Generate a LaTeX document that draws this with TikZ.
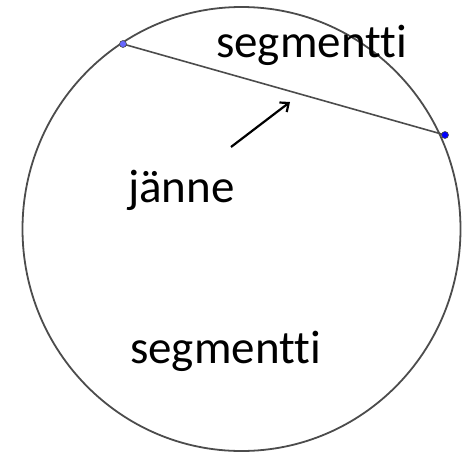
\documentclass[tikz,border=0pt]{standalone}
\usepackage{fontspec}
\setmainfont{Carlito}[RawFeature=-liga]
\usetikzlibrary{arrows.meta}
\begin{document}
\begin{tikzpicture}[x=1pt,y=-1pt,
  lbl/.style={anchor=base west,inner sep=0pt,font=\fontsize{47}{50}\selectfont},
  curve/.style={draw=black!70,line width=1.8pt},
  pt/.style={circle,inner sep=0pt,minimum size=7pt,draw=black!70,line width=0.6pt}]
\useasboundingbox (0,0) rectangle (462,453);
\draw[curve] (241.5,229) ellipse [x radius=219, y radius=222];
\draw[curve,line width=1.6pt] (123,44) -- (445,135);
\node[pt,fill=blue!60!white] (A) at (123,44) {};
\node[pt,fill=blue] (B) at (445,135) {};
\node[lbl] (s1) at (216,57) {segmentti};
\node[lbl] (j) at (128,202) {jänne};
\node[lbl] (s2) at (130,363) {segmentti};
\coordinate (a0) at (231,147);
\coordinate (a1) at (290,102);
\draw[-{Straight Barb[length=7pt,width=12pt]},line width=2.2pt] (a0) -- (a1);
\end{tikzpicture}
\end{document}
